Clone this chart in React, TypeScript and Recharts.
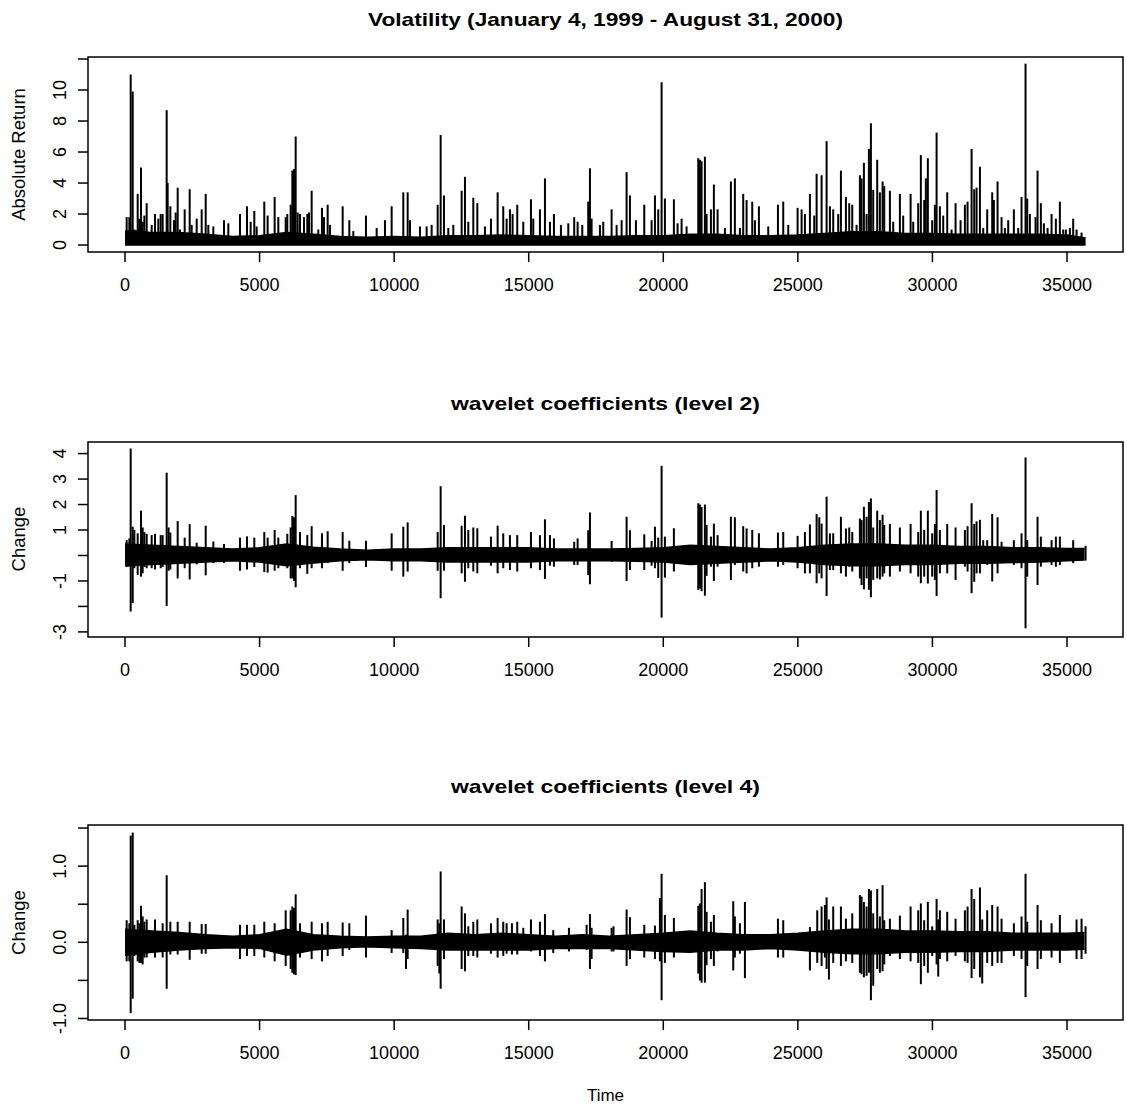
import React from 'react';
import { ComposedChart, Area, Bar, XAxis, YAxis, ReferenceArea } from 'recharts';

const FONT = '"Liberation Sans", Arial, Helvetica, sans-serif';

// shared time axis
const X_DOMAIN: [number, number] = [-1375, 37081];
const X_TICKS = [0, 5000, 10000, 15000, 20000, 25000, 30000, 35000];

// --- panel 1: absolute return ---
const VOL_Y_TICKS = [0, 2, 4, 6, 8, 10, 12];
const VOL_Y_LABELS = ['0', '2', '4', '6', '8', '10', ''];
// [t, top of the dense band]
const VOL_BAND = [
  [0, 0.9], [500, 0.9], [1000, 0.8], [2000, 0.8], [3000, 0.7], [4000, 0.55], [5000, 0.6],
  [6000, 0.8], [7000, 0.7], [8000, 0.55], [9000, 0.5], [10000, 0.55], [11000, 0.5],
  [12000, 0.6], [13000, 0.6], [14000, 0.65], [15000, 0.6], [16000, 0.55], [17000, 0.55],
  [18000, 0.55], [19000, 0.6], [20000, 0.6], [21000, 0.7], [22000, 0.7], [23000, 0.6],
  [24000, 0.6], [25000, 0.65], [26000, 0.75], [27000, 0.85], [28000, 0.85], [29000, 0.75],
  [30000, 0.75], [31000, 0.7], [32000, 0.7], [33000, 0.7], [34000, 0.7], [35000, 0.65], [35690, 0.45],
];
// [t, peak]
const VOL_SPIKES = [
  [62, 1.8], [161, 1.8], [211, 11.0], [286, 9.9], [347, 1.0], [471, 3.3], [533, 1.7], [594, 5.0],
  [656, 1.5], [718, 1.9], [805, 2.7], [991, 1.3], [1115, 2.0], [1238, 1.7], [1325, 2.0], [1399, 2.0],
  [1548, 8.7], [1585, 4.0], [1684, 2.5], [1820, 1.6], [1882, 2.1], [1957, 3.7], [2043, 1.0],
  [2217, 2.3], [2403, 3.6], [2477, 1.3], [2663, 1.7], [2849, 2.3], [2998, 3.3], [3096, 1.3],
  [3282, 1.2], [3678, 1.6], [3839, 1.4], [4272, 2.0], [4532, 2.5], [4668, 1.5], [4804, 2.2],
  [4891, 1.2], [5175, 2.8], [5300, 1.9], [5560, 3.1], [5696, 1.8], [5970, 1.8], [6030, 2.0],
  [6155, 2.6], [6217, 4.8], [6279, 4.9], [6341, 7.0], [6415, 2.1], [6501, 2.0], [6650, 1.8],
  [6773, 2.0], [6836, 2.1], [6935, 3.5], [7182, 1.0], [7318, 2.4], [7393, 1.8], [7530, 2.6],
  [7616, 1.3], [8087, 2.5], [8334, 1.6], [8483, 0.9], [8953, 1.9], [9350, 1.1], [9659, 1.6],
  [9907, 2.5], [10340, 3.4], [10502, 3.4], [10588, 1.6], [10959, 1.2], [11207, 1.2], [11393, 1.3],
  [11617, 2.6], [11728, 7.1], [11851, 3.2], [12012, 1.1], [12198, 1.3], [12508, 3.5], [12631, 4.4],
  [12755, 1.5], [12941, 3.05], [13090, 2.7], [13374, 1.2], [13597, 1.7], [13845, 3.4], [14054, 2.5],
  [14179, 1.7], [14302, 2.3], [14401, 2.0], [14574, 2.6], [14798, 1.5], [15083, 2.95], [15169, 1.7],
  [15417, 2.3], [15603, 4.3], [15789, 1.5], [15937, 2.0], [16197, 1.3], [16470, 1.4], [16690, 1.8],
  [16817, 1.5], [16990, 1.3], [17211, 2.8], [17275, 4.95], [17337, 1.7], [17646, 1.3], [17770, 1.5],
  [18080, 2.3], [18266, 1.3], [18452, 1.6], [18637, 4.7], [18761, 3.2], [18983, 1.6], [19293, 2.6],
  [19566, 1.6], [19690, 3.2], [19813, 2.3], [19937, 10.5], [20060, 3.0], [20394, 2.95], [20531, 1.4],
  [20680, 1.7], [20866, 1.2], [21300, 5.6], [21361, 5.5], [21423, 5.4], [21546, 5.7], [21609, 2.0],
  [21770, 2.3], [21880, 3.9], [22018, 2.3], [22290, 1.1], [22512, 4.1], [22660, 4.3], [22847, 1.1],
  [22970, 3.3], [23095, 2.9], [23305, 2.8], [23405, 1.6], [23553, 2.5], [23900, 1.2], [24260, 2.6],
  [24457, 2.8], [24643, 1.3], [24990, 2.4], [25139, 2.3], [25262, 2.0], [25448, 3.3], [25609, 1.9],
  [25697, 4.6], [25882, 4.5], [26068, 6.7], [26191, 2.5], [26314, 2.3], [26500, 2.0], [26600, 4.8],
  [26786, 3.1], [26909, 2.7], [27021, 2.6], [27182, 1.3], [27305, 4.5], [27367, 4.3], [27454, 5.3],
  [27553, 2.0], [27640, 6.2], [27714, 7.85], [27800, 3.55], [27949, 5.5], [28048, 3.4], [28148, 4.1],
  [28209, 3.8], [28420, 3.5], [28543, 1.5], [28791, 3.3], [28914, 1.9], [29189, 3.3], [29286, 1.5],
  [29472, 2.7], [29570, 5.8], [29694, 2.9], [29756, 4.3], [29830, 5.6], [29992, 1.6], [30092, 2.6],
  [30155, 7.25], [30277, 2.5], [30401, 1.9], [30550, 3.4], [30711, 1.0], [30860, 2.7], [31046, 1.6],
  [31206, 2.6], [31306, 2.8], [31455, 6.2], [31553, 3.6], [31640, 3.7], [31765, 5.05], [31887, 1.1],
  [32035, 2.3], [32221, 3.4], [32283, 2.9], [32420, 4.1], [32569, 1.8], [32692, 1.1], [32816, 1.6],
  [33026, 2.3], [33187, 1.1], [33311, 3.1], [33460, 11.7], [33522, 3.0], [33621, 2.0], [33832, 1.8],
  [33906, 4.8], [34029, 2.7], [34141, 1.4], [34278, 1.1], [34427, 2.0], [34586, 1.7], [34735, 2.8],
  [34859, 1.0], [34958, 1.0], [35107, 1.1], [35230, 1.7], [35355, 1.0], [35541, 0.8],
];

// --- panel 2: wavelet coefficients, level 2 ---
const L2_Y_TICKS = [-3, -2, -1, 0, 1, 2, 3, 4];
const L2_Y_LABELS = ['-3', '', '-1', '', '1', '2', '3', '4'];
// [t, low, high]
const L2_BAND = [
  [0, -0.4, 0.45], [1000, -0.35, 0.4], [2000, -0.3, 0.35], [3000, -0.26, 0.3], [4000, -0.21, 0.25],
  [5000, -0.26, 0.3], [6000, -0.4, 0.45], [7000, -0.3, 0.32], [8000, -0.21, 0.25], [9000, -0.17, 0.21],
  [10000, -0.21, 0.25], [11000, -0.21, 0.25], [12000, -0.26, 0.3], [13000, -0.26, 0.3], [14000, -0.26, 0.3],
  [15000, -0.26, 0.3], [16000, -0.21, 0.25], [17000, -0.21, 0.25], [18000, -0.21, 0.25], [19000, -0.23, 0.27],
  [20000, -0.26, 0.3], [21000, -0.35, 0.4], [22000, -0.3, 0.35], [23000, -0.26, 0.3], [24000, -0.21, 0.25],
  [25000, -0.26, 0.3], [26000, -0.35, 0.4], [27000, -0.4, 0.45], [28000, -0.4, 0.45], [29000, -0.35, 0.4],
  [30000, -0.35, 0.4], [31000, -0.3, 0.35], [32000, -0.3, 0.35], [33000, -0.28, 0.3], [34000, -0.26, 0.3],
  [35000, -0.21, 0.27], [35650, -0.18, 0.27],
];
const L2_SPIKES = [
  [62, -0.45, 0.6], [161, -0.44, 0.67], [211, -2.2, 4.2], [286, -1.87, 1.13], [347, -0.5, 1.0],
  [471, -0.76, 0.87], [594, -0.83, 1.76], [656, -0.7, 1.1], [718, -0.45, 0.92], [805, -0.5, 0.85],
  [991, -0.5, 0.8], [1115, -0.55, 0.85], [1325, -0.5, 0.8], [1399, -0.45, 0.8], [1548, -1.98, 3.25],
  [1620, -0.6, 1.1], [1684, -0.55, 0.9], [1957, -0.9, 1.35], [2217, -0.5, 0.7], [2403, -0.94, 1.23],
  [2663, -0.35, 0.5], [2998, -0.78, 1.17], [3282, -0.3, 0.55], [3678, -0.3, 0.45], [4272, -0.6, 0.7],
  [4532, -0.55, 0.75], [4804, -0.45, 0.7], [5175, -0.65, 0.92], [5300, -0.67, 0.7], [5560, -0.6, 1.0],
  [5696, -0.5, 0.7], [6030, -0.5, 0.85], [6155, -0.9, 1.1], [6217, -0.9, 1.55], [6279, -1.0, 1.5],
  [6341, -1.25, 2.37], [6501, -0.5, 0.92], [6773, -0.72, 0.8], [6935, -0.5, 1.15], [7318, -0.5, 0.87],
  [7530, -0.3, 0.95], [8087, -0.6, 0.92], [8334, -0.3, 0.58], [8953, -0.45, 0.58], [9907, -0.6, 0.87],
  [10340, -0.83, 1.13], [10502, -0.63, 1.3], [11617, -0.6, 0.92], [11728, -1.68, 2.72], [11851, -0.6, 1.2],
  [12508, -0.7, 1.17], [12631, -1.03, 1.56], [12755, -0.5, 1.0], [12941, -0.63, 1.1], [13090, -0.7, 1.07],
  [13597, -0.4, 0.74], [13845, -0.7, 1.17], [14054, -0.5, 0.87], [14302, -0.57, 0.8], [14574, -0.63, 0.8],
  [15083, -0.5, 0.92], [15417, -0.57, 0.8], [15603, -0.92, 1.42], [15789, -0.4, 0.8], [15937, -0.44, 0.67],
  [16690, -0.37, 0.54], [16817, -0.37, 0.67], [17211, -0.77, 0.99], [17275, -1.13, 1.69], [18080, -0.24, 0.57],
  [18637, -1.0, 1.52], [18761, -0.57, 0.99], [19293, -0.57, 0.83], [19566, -0.4, 0.57], [19690, -0.5, 1.13],
  [19813, -0.88, 0.7], [19937, -2.44, 3.52], [20060, -0.87, 0.74], [20394, -0.63, 1.07], [21300, -1.35, 2.05],
  [21361, -1.3, 2.0], [21423, -1.4, 1.9], [21546, -1.58, 2.0], [21609, -0.8, 1.2], [21770, -0.44, 0.74],
  [21880, -1.0, 1.25], [22018, -0.44, 0.8], [22512, -0.96, 1.52], [22660, -0.37, 1.5], [22970, -0.63, 1.15],
  [23095, -0.7, 1.06], [23305, -0.5, 1.0], [23553, -0.44, 0.87], [24260, -0.44, 0.9], [24457, -0.37, 0.92],
  [24990, -0.5, 0.77], [25262, -0.7, 0.92], [25448, -0.7, 1.22], [25697, -1.09, 1.63], [25795, -0.7, 1.5],
  [25882, -0.9, 1.25], [26068, -1.59, 2.31], [26191, -0.57, 0.87], [26314, -0.57, 0.87], [26600, -0.7, 1.52],
  [26786, -0.83, 1.06], [26909, -0.44, 1.1], [27021, -0.63, 0.92], [27305, -0.9, 1.45], [27367, -1.16, 1.39],
  [27454, -1.33, 1.91], [27553, -0.9, 1.52], [27640, -1.35, 2.1], [27714, -1.64, 2.24], [27800, -0.96, 1.1],
  [27949, -0.9, 1.76], [28048, -0.94, 1.39], [28148, -0.83, 1.6], [28209, -0.7, 1.2], [28420, -0.83, 1.24],
  [28791, -0.63, 1.1], [29189, -0.7, 1.24], [29472, -0.83, 0.92], [29570, -1.09, 1.76], [29694, -0.83, 1.0],
  [29830, -1.1, 1.76], [29992, -0.83, 0.87], [30092, -0.96, 1.24], [30155, -1.59, 2.57], [30277, -0.7, 1.0],
  [30550, -0.7, 1.24], [30860, -0.96, 1.1], [31206, -0.44, 1.0], [31306, -0.63, 1.15], [31455, -1.48, 2.05],
  [31553, -1.03, 1.24], [31640, -0.7, 1.34], [31765, -0.7, 1.4], [31887, -0.3, 0.6], [32035, -0.37, 0.6],
  [32221, -1.02, 1.63], [32420, -0.7, 1.5], [32569, -0.3, 0.54], [33026, -0.37, 0.6], [33311, -0.5, 0.87],
  [33460, -2.86, 3.85], [33522, -0.83, 0.6], [33906, -1.16, 1.52], [34029, -0.44, 0.74], [34427, -0.37, 0.6],
  [34586, -0.44, 0.74], [34735, -0.37, 0.74], [35230, -0.3, 0.6], [35690, -0.2, 0.38],
];

// --- panel 3: wavelet coefficients, level 4 ---
const L4_Y_TICKS = [-1, -0.5, 0, 0.5, 1, 1.5];
const L4_Y_LABELS = ['-1.0', '', '0.0', '', '1.0', ''];
const L4_BAND = [
  [0, -0.17, 0.17], [1000, -0.13, 0.15], [2000, -0.1, 0.13], [3000, -0.08, 0.1], [4000, -0.07, 0.08],
  [5000, -0.08, 0.1], [6000, -0.17, 0.17], [7000, -0.1, 0.1], [8000, -0.07, 0.08], [9000, -0.06, 0.07],
  [10000, -0.07, 0.08], [11000, -0.08, 0.08], [12000, -0.1, 0.12], [13000, -0.1, 0.1], [14000, -0.1, 0.12],
  [15000, -0.1, 0.1], [16000, -0.08, 0.08], [17000, -0.08, 0.1], [18000, -0.08, 0.08], [19000, -0.1, 0.1],
  [20000, -0.12, 0.12], [21000, -0.13, 0.15], [22000, -0.1, 0.12], [23000, -0.1, 0.1], [24000, -0.08, 0.1],
  [25000, -0.1, 0.12], [26000, -0.13, 0.15], [27000, -0.15, 0.17], [28000, -0.15, 0.17], [29000, -0.13, 0.15],
  [30000, -0.13, 0.15], [31000, -0.12, 0.14], [32000, -0.12, 0.14], [33000, -0.1, 0.12], [34000, -0.1, 0.12],
  [35000, -0.1, 0.12], [35650, -0.09, 0.13],
];
const L4_SPIKES = [
  [62, -0.25, 0.29], [161, -0.25, 0.25], [211, -0.93, 1.4], [286, -0.74, 1.44], [347, -0.18, 0.23],
  [471, -0.25, 0.29], [533, -0.27, 0.25], [594, -0.27, 0.48], [656, -0.29, 0.34], [718, -0.2, 0.27],
  [805, -0.2, 0.3], [1115, -0.2, 0.3], [1399, -0.2, 0.25], [1548, -0.61, 0.88], [1684, -0.16, 0.27],
  [1957, -0.16, 0.27], [2403, -0.23, 0.27], [2849, -0.15, 0.24], [2998, -0.15, 0.24], [4272, -0.22, 0.23],
  [4532, -0.18, 0.23], [4804, -0.18, 0.23], [5175, -0.2, 0.27], [5560, -0.25, 0.25], [5970, -0.31, 0.42],
  [6155, -0.35, 0.42], [6217, -0.4, 0.47], [6279, -0.42, 0.45], [6341, -0.43, 0.63], [6501, -0.2, 0.25],
  [6935, -0.22, 0.27], [7318, -0.25, 0.25], [7530, -0.18, 0.27], [8087, -0.18, 0.26], [8334, -0.1, 0.25],
  [8953, -0.2, 0.35], [9907, -0.14, 0.16], [10340, -0.14, 0.32], [10440, -0.35, 0.1], [10502, -0.22, 0.43],
  [11617, -0.31, 0.3], [11680, -0.41, 0.25], [11728, -0.61, 0.93], [11851, -0.22, 0.3], [12508, -0.35, 0.47],
  [12631, -0.38, 0.38], [12755, -0.18, 0.21], [12941, -0.18, 0.27], [13090, -0.2, 0.3], [13597, -0.15, 0.25],
  [13845, -0.2, 0.32], [14054, -0.18, 0.27], [14179, -0.15, 0.25], [14376, -0.16, 0.25], [14574, -0.16, 0.27],
  [14798, -0.1, 0.19], [15083, -0.12, 0.3], [15417, -0.18, 0.27], [15603, -0.25, 0.37], [15912, -0.14, 0.16],
  [16495, -0.12, 0.19], [17151, -0.1, 0.23], [17275, -0.35, 0.37], [17337, -0.22, 0.19], [18080, -0.12, 0.19],
  [18150, -0.12, 0.21], [18637, -0.31, 0.43], [18761, -0.22, 0.33], [19293, -0.2, 0.23], [19690, -0.22, 0.22],
  [19875, -0.25, 0.58], [19937, -0.76, 0.9], [20060, -0.27, 0.36], [20394, -0.2, 0.32], [21300, -0.41, 0.48],
  [21361, -0.5, 0.51], [21423, -0.53, 0.7], [21546, -0.53, 0.79], [21609, -0.3, 0.4], [21770, -0.22, 0.27],
  [21880, -0.31, 0.36], [22018, -0.12, 0.12], [22599, -0.37, 0.54], [22660, -0.2, 0.34], [22847, -0.15, 0.25],
  [23033, -0.47, 0.53], [24260, -0.2, 0.31], [24457, -0.2, 0.29], [25448, -0.37, 0.2], [25720, -0.27, 0.42],
  [25882, -0.31, 0.47], [26005, -0.2, 0.49], [26068, -0.35, 0.59], [26154, -0.49, 0.3], [26314, -0.27, 0.47],
  [26600, -0.31, 0.47], [26786, -0.25, 0.31], [27021, -0.27, 0.38], [27305, -0.4, 0.62], [27367, -0.42, 0.6],
  [27454, -0.46, 0.53], [27553, -0.44, 0.47], [27640, -0.4, 0.7], [27714, -0.76, 0.68], [27800, -0.57, 0.38],
  [27949, -0.35, 0.7], [28048, -0.4, 0.34], [28148, -0.38, 0.75], [28209, -0.29, 0.29], [28420, -0.18, 0.31],
  [28791, -0.22, 0.35], [29189, -0.25, 0.47], [29472, -0.27, 0.42], [29570, -0.55, 0.51], [29694, -0.31, 0.29],
  [29830, -0.4, 0.53], [29992, -0.18, 0.21], [30155, -0.29, 0.57], [30215, -0.45, 0.3], [30277, -0.22, 0.42],
  [30550, -0.25, 0.4], [30860, -0.18, 0.31], [31206, -0.25, 0.42], [31306, -0.27, 0.47], [31455, -0.47, 0.7],
  [31553, -0.35, 0.57], [31765, -0.46, 0.72], [31850, -0.54, 0.3], [32035, -0.27, 0.42], [32221, -0.31, 0.49],
  [32420, -0.27, 0.47], [32569, -0.27, 0.31], [33026, -0.18, 0.25], [33311, -0.22, 0.34], [33460, -0.72, 0.9],
  [33522, -0.31, 0.27], [33906, -0.35, 0.49], [34029, -0.22, 0.29], [34427, -0.2, 0.25], [34735, -0.27, 0.36],
  [35355, -0.22, 0.3], [35541, -0.22, 0.31], [35690, -0.15, 0.21],
];

type Row = { t: number; band?: [number, number]; spike?: [number, number] };

// one-sided series start every bar at zero
function buildRows(band: number[][], spikes: number[][], oneSided: boolean): Row[] {
  const rows: Row[] = [];
  band.forEach((b) => rows.push({ t: b[0], band: oneSided ? [0, b[1]] : [b[1], b[2]] }));
  spikes.forEach((s) => rows.push({ t: s[0], spike: oneSided ? [0, s[1]] : [s[1], s[2]] }));
  return rows.sort((a, b) => a.t - b.t);
}

const volRows = buildRows(VOL_BAND, VOL_SPIKES, true);
const l2Rows = buildRows(L2_BAND, L2_SPIKES, false);
const l4Rows = buildRows(L4_BAND, L4_SPIKES, false);

// bars on a number axis get a tiny band; draw each one as a 2px stroke at its centre
const Spike = (props: any) => {
  const { x, y, width, height } = props;
  if (![x, y, width, height].every(Number.isFinite) || height === 0) return <g />;
  const cx = x + width / 2;
  const top = Math.min(y, y + height);
  return <rect x={cx - 1} y={top} width={2} height={Math.abs(height)} fill="#000" />;
};

const YTick = (props: any) => {
  const { x, y, payload, ticks, labels } = props;
  const label = labels[ticks.indexOf(payload.value)];
  if (!label) return <g />;
  const bx = x - 11.5;
  return (
    <text x={bx} y={y} transform={`rotate(-90 ${bx} ${y})`} textAnchor="middle"
      fill="#000" fontSize={18} fontFamily={FONT}>{label}</text>
  );
};

interface PanelProps {
  rows: Row[];
  top: number;
  domain: [number, number];
  yTicks: number[];
  yLabels: string[];
}

const Panel: React.FC<PanelProps> = ({ rows, top, domain, yTicks, yLabels }) => (
  <div style={{ position: 'absolute', left: 0, top: 0 }}>
    <ComposedChart width={1127} height={top + 195 + 48} data={rows}
      margin={{ top, right: 4, bottom: 0, left: 0 }}>
      <XAxis type="number" dataKey="t" domain={X_DOMAIN} allowDataOverflow ticks={X_TICKS} interval={0}
        height={48} tickSize={10} tickMargin={16} axisLine={false}
        tickLine={{ stroke: '#000', strokeWidth: 1.5 }}
        tick={{ fill: '#000', fontSize: 18, fontFamily: FONT }} />
      <YAxis type="number" domain={domain} allowDataOverflow ticks={yTicks} interval={0}
        width={88} tickSize={10} tickMargin={0} axisLine={false}
        tickLine={{ stroke: '#000', strokeWidth: 1.5 }}
        tick={(p: any) => <YTick {...p} ticks={yTicks} labels={yLabels} />} />
      <Area dataKey="band" type="linear" stroke="#000" strokeWidth={1.5} fill="#000" fillOpacity={1}
        connectNulls dot={false} activeDot={false} isAnimationActive={false} />
      <Bar dataKey="spike" fill="#000" shape={Spike} isAnimationActive={false} />
      <ReferenceArea x1={X_DOMAIN[0]} x2={X_DOMAIN[1]} y1={domain[0]} y2={domain[1]}
        fill="none" stroke="#000" strokeWidth={1.5} ifOverflow="visible" />
    </ComposedChart>
  </div>
);

const App: React.FC = () => (
  <div style={{ position: 'absolute', left: 0, top: 0, width: 1127, height: 1110, background: '#fff' }}>
    <Panel rows={volRows} top={57} domain={[-0.45, 12.13]} yTicks={VOL_Y_TICKS} yLabels={VOL_Y_LABELS} />
    <Panel rows={l2Rows} top={442} domain={[-3.2, 4.455]} yTicks={L2_Y_TICKS} yLabels={L2_Y_LABELS} />
    <Panel rows={l4Rows} top={825} domain={[-1.02, 1.54]} yTicks={L4_Y_TICKS} yLabels={L4_Y_LABELS} />
    <svg width={1127} height={1110} style={{ position: 'absolute', left: 0, top: 0, pointerEvents: 'none' }}
      fontFamily={FONT} fill="#000">
      <text x={605.5} y={26} textAnchor="middle" fontSize={19} fontWeight="bold"
        textLength={475} lengthAdjust="spacingAndGlyphs">Volatility (January 4, 1999 - August 31, 2000)</text>
      <text x={605.5} y={410} textAnchor="middle" fontSize={19} fontWeight="bold"
        textLength={309} lengthAdjust="spacingAndGlyphs">wavelet coefficients (level 2)</text>
      <text x={605.5} y={793} textAnchor="middle" fontSize={19} fontWeight="bold"
        textLength={309} lengthAdjust="spacingAndGlyphs">wavelet coefficients (level 4)</text>
      <text x={25} y={154.5} transform="rotate(-90 25 154.5)" textAnchor="middle" fontSize={18.5}>Absolute Return</text>
      <text x={25} y={539} transform="rotate(-90 25 539)" textAnchor="middle" fontSize={18.5}>Change</text>
      <text x={25} y={922.5} transform="rotate(-90 25 922.5)" textAnchor="middle" fontSize={18.5}>Change</text>
      <text x={605.5} y={1101} textAnchor="middle" fontSize={17}>Time</text>
    </svg>
  </div>
);

export default App;
